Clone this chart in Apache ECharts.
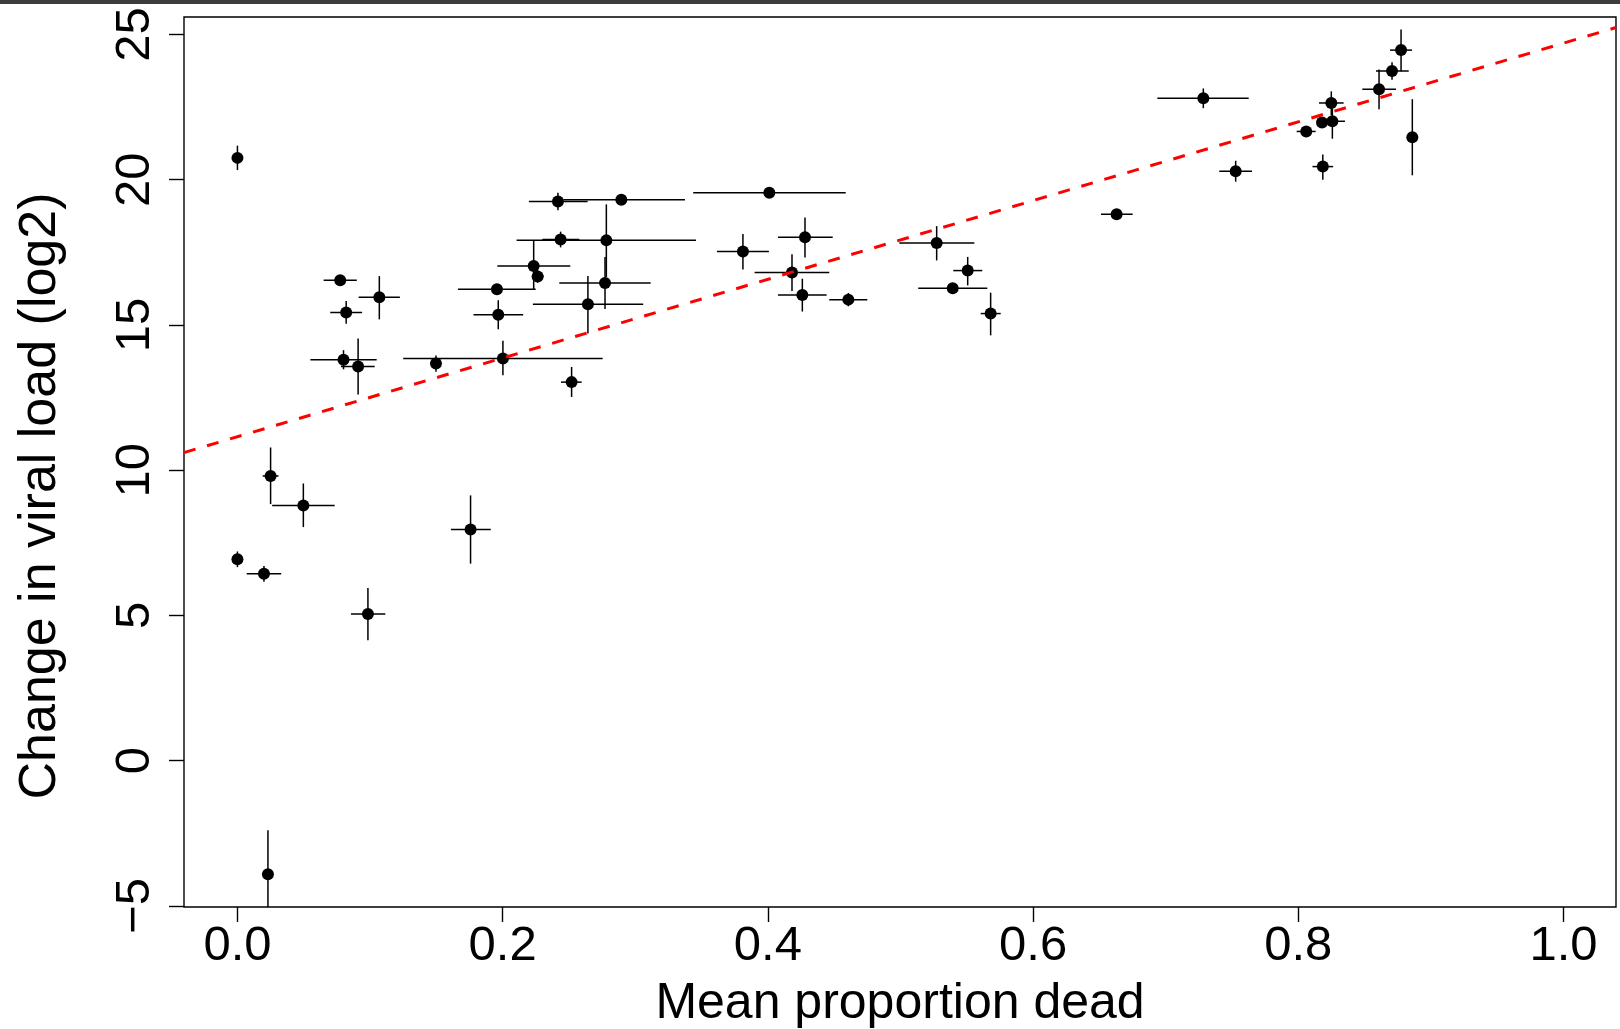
<!DOCTYPE html>
<html>
<head>
<meta charset="utf-8">
<script src="https://cdn.jsdelivr.net/npm/echarts@6/dist/echarts.min.js"></script>
<style>
  html, body { margin: 0; padding: 0; background: #fff; }
  #chart { width: 1620px; height: 1029px; }
</style>
</head>
<body>
<div id="chart"></div>
<script>
// mean proportion dead (x) with its range
const propDead = [0.000, 0.0775, 0.107, 0.082, 0.080, 0.091, 0.1497, 0.2002, 0.252, 0.1967,
                  0.1957, 0.2234, 0.2264, 0.2417, 0.2895, 0.2437, 0.2782, 0.2772, 0.2643, 0.025,
                  0.0497, 0.000, 0.020, 0.0984, 0.1758, 0.023, 0.4011, 0.3812, 0.428, 0.4182,
                  0.426, 0.4607, 0.5273, 0.5507, 0.5394, 0.568, 0.663, 0.7284, 0.7528, 0.806,
                  0.8179, 0.8249, 0.8257, 0.8185, 0.8609, 0.8707, 0.8775, 0.886];
const propLo   = [0.000, 0.065, 0.0914, 0.070, 0.055, 0.078, 0.1497, 0.125, 0.244, 0.178,
                  0.1663, 0.196, 0.222, 0.2198, 0.2457, 0.2299, 0.2105, 0.2427, 0.2228, 0.019,
                  0.0262, 0.000, 0.007, 0.0856, 0.161, 0.023, 0.3437, 0.3616, 0.4076, 0.390,
                  0.4076, 0.4463, 0.4991, 0.5398, 0.5134, 0.5605, 0.6512, 0.6937, 0.7404, 0.7988,
                  0.8179, 0.8156, 0.8211, 0.8107, 0.8483, 0.8586, 0.8692, 0.886];
const propHi   = [0.000, 0.090, 0.1225, 0.094, 0.105, 0.1035, 0.1497, 0.2754, 0.2596, 0.2155,
                  0.2249, 0.251, 0.231, 0.2641, 0.3375, 0.2578, 0.3458, 0.3116, 0.306, 0.031,
                  0.0733, 0.000, 0.033, 0.1115, 0.191, 0.023, 0.4587, 0.4008, 0.4489, 0.4463,
                  0.4443, 0.475, 0.5557, 0.5617, 0.5655, 0.5756, 0.6751, 0.7626, 0.7651, 0.8131,
                  0.8179, 0.8342, 0.8352, 0.8263, 0.8737, 0.8833, 0.8858, 0.886];

// change in viral load (log2) (y) with its range
const viralChange = [20.75, 16.54, 15.95, 15.43, 13.80, 13.57, 13.67, 13.84, 13.03, 15.35,
                     16.23, 17.03, 16.67, 19.25, 19.31, 17.94, 17.91, 16.44, 15.71, 9.80,
                     8.78, 6.93, 6.43, 5.05, 7.96, -3.91, 19.55, 17.53, 18.02, 16.80,
                     16.03, 15.87, 17.82, 16.87, 16.26, 15.39, 18.81, 22.80, 20.29, 21.66,
                     21.97, 22.64, 22.01, 20.45, 23.11, 23.74, 24.46, 21.46];
const viralLo = [20.33, 16.36, 15.19, 15.04, 13.47, 12.60, 13.39, 13.27, 12.52, 14.85,
                 16.13, 16.22, 16.45, 18.95, 19.21, 17.67, 16.65, 15.55, 14.70, 8.83,
                 8.04, 6.66, 6.16, 4.14, 6.78, -5.42, 19.45, 16.91, 17.32, 16.17,
                 15.46, 15.64, 17.22, 16.36, 16.16, 14.64, 18.66, 22.46, 19.93, 21.56,
                 21.97, 22.22, 21.41, 20.00, 22.42, 23.44, 23.73, 20.15];
const viralHi = [21.17, 16.72, 16.68, 15.82, 14.13, 14.53, 13.95, 14.45, 13.55, 15.85,
                 16.33, 17.89, 16.89, 19.55, 19.41, 18.21, 19.15, 17.34, 16.68, 10.78,
                 9.54, 7.20, 6.70, 5.94, 9.13, -2.40, 19.65, 18.13, 18.70, 17.43,
                 16.59, 16.10, 18.40, 17.34, 16.36, 16.11, 18.96, 23.14, 20.65, 21.76,
                 21.97, 23.04, 22.45, 20.87, 23.79, 24.04, 25.17, 22.77];

// regression line
const fitIntercept = 11.15;
const fitSlope = 13.55;

const xTicks = [0, 0.2, 0.4, 0.6, 0.8, 1.0];
const yTicks = [-5, 0, 5, 10, 15, 20, 25];
const xMin = -0.0403, xMax = 1.0396;
const yMin = -5.04, yMax = 25.6;

const FONT = "'Liberation Sans', Arial, Helvetica, sans-serif";

const points = propDead.map((x, i) => [x, viralChange[i]]);
const bars = propDead.map((x, i) => [x, viralChange[i], propLo[i], propHi[i], viralLo[i], viralHi[i]]);
const fitLine = [xMin, xMax].map(x => [x, fitIntercept + fitSlope * x]);

const chart = echarts.init(document.getElementById('chart'));

chart.setOption({
  animation: false,
  backgroundColor: '#fff',
  grid: {
    left: 184, right: 4, top: 17, bottom: 122,
    show: true, borderColor: '#000', borderWidth: 1.4,
    backgroundColor: 'transparent',
    outerBoundsMode: 'none'
  },
  xAxis: {
    type: 'value', min: xMin, max: xMax,
    axisLine: { show: false, onZero: false },
    splitLine: { show: false },
    axisTick: { show: true, length: 15, customValues: xTicks, lineStyle: { color: '#000', width: 1.4 } },
    axisLabel: {
      customValues: xTicks, margin: 15,
      formatter: v => v.toFixed(1),
      color: '#000', fontSize: 49, fontFamily: FONT
    }
  },
  yAxis: {
    type: 'value', min: yMin, max: yMax,
    axisLine: { show: false, onZero: false },
    splitLine: { show: false },
    axisTick: { show: true, length: 15, customValues: yTicks, lineStyle: { color: '#000', width: 1.4 } },
    axisLabel: {
      customValues: yTicks, rotate: 90, margin: 24,
      formatter: v => String(v).replace('-', '\u2212'),
      color: '#000', fontSize: 49, fontFamily: FONT
    }
  },
  graphic: [
    { type: 'rect', left: 0, top: 0, shape: { width: 1620, height: 4 }, style: { fill: '#3c3c3c' } },
    {
      type: 'text', x: 900, y: 1004,
      style: { text: 'Mean proportion dead', font: '50px ' + FONT, fill: '#000',
               textAlign: 'center', textVerticalAlign: 'middle' }
    },
    {
      type: 'text', x: 41, y: 496, rotation: Math.PI / 2,
      style: { text: 'Change in viral load (log2)', font: '52px ' + FONT, fill: '#000',
               textAlign: 'center', textVerticalAlign: 'middle' }
    }
  ],
  series: [
    {
      type: 'custom',
      clip: true,
      silent: true,
      data: bars,
      renderItem: function (params, api) {
        const y = api.value(1), x = api.value(0);
        const a = api.coord([api.value(2), y]);
        const b = api.coord([api.value(3), y]);
        const c = api.coord([x, api.value(4)]);
        const d = api.coord([x, api.value(5)]);
        const st = { stroke: '#000', lineWidth: 1.5 };
        return {
          type: 'group',
          children: [
            { type: 'line', shape: { x1: a[0], y1: a[1], x2: b[0], y2: b[1] }, style: st },
            { type: 'line', shape: { x1: c[0], y1: c[1], x2: d[0], y2: d[1] }, style: st }
          ]
        };
      }
    },
    {
      type: 'scatter',
      data: points,
      symbol: 'circle',
      symbolSize: 12,
      itemStyle: { color: '#000', opacity: 1 },
      silent: true
    },
    {
      type: 'line',
      data: fitLine,
      symbol: 'none',
      silent: true,
      lineStyle: { color: '#ff0000', width: 3, type: [12, 12] }
    }
  ]
});
</script>
</body>
</html>
